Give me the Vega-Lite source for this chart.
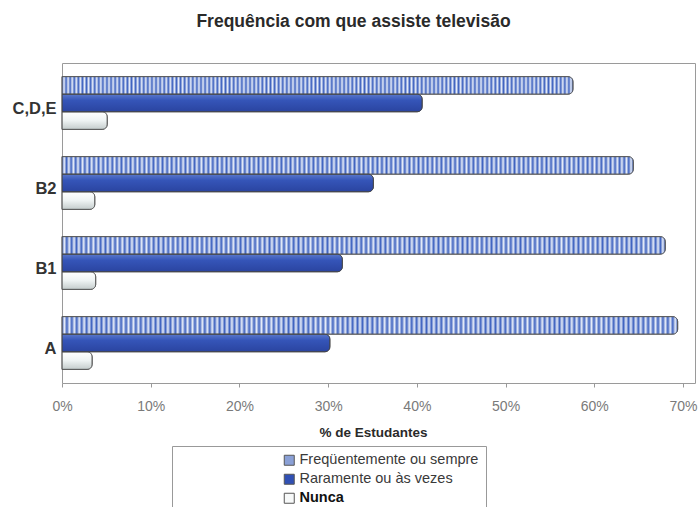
{
  "$schema": "https://vega.github.io/schema/vega-lite/v6.json",
  "width": 633,
  "height": 320,
  "autosize": "none",
  "padding": {"left": 62, "top": 63, "right": 4, "bottom": 124},
  "background": "white",
  "title": {"text": "Frequência com que assiste televisão", "fontSize": 17.5, "fontWeight": "bold", "font": "Liberation Sans", "color": "#2a2a2a", "offset": 33, "anchor": "middle", "dx": -25},
  "config": {"view": {"stroke": "#9a9a9a", "strokeWidth": 1}, "font": "Liberation Sans"},
  "data": {"values": [
    {"cat": "C,D,E", "series": "Freqüentemente ou sempre", "value": 57.6},
    {"cat": "C,D,E", "series": "Raramente ou às vezes", "value": 40.6},
    {"cat": "C,D,E", "series": "Nunca", "value": 5.1},
    {"cat": "B2", "series": "Freqüentemente ou sempre", "value": 64.4},
    {"cat": "B2", "series": "Raramente ou às vezes", "value": 35.1},
    {"cat": "B2", "series": "Nunca", "value": 3.7},
    {"cat": "B1", "series": "Freqüentemente ou sempre", "value": 68.0},
    {"cat": "B1", "series": "Raramente ou às vezes", "value": 31.6},
    {"cat": "B1", "series": "Nunca", "value": 3.8},
    {"cat": "A", "series": "Freqüentemente ou sempre", "value": 69.4},
    {"cat": "A", "series": "Raramente ou às vezes", "value": 30.2},
    {"cat": "A", "series": "Nunca", "value": 3.4}
  ]},
  "encoding": {
    "y": {"field": "cat", "type": "nominal", "sort": ["C,D,E", "B2", "B1", "A"],
      "scale": {"paddingInner": 0.34, "paddingOuter": 0.17},
      "axis": {"title": null, "domain": false, "ticks": false, "labelFontSize": 16.5, "labelFontWeight": "bold", "labelColor": "#333", "labelPadding": 6, "labelOffset": 5.5, "labelFont": "Liberation Sans"}},
    "yOffset": {"field": "series", "type": "nominal",
      "sort": ["Freqüentemente ou sempre", "Raramente ou às vezes", "Nunca"],
      "scale": {"domain": ["Freqüentemente ou sempre", "Raramente ou às vezes", "Nunca"], "paddingInner": 0, "paddingOuter": 0}},
    "x": {"field": "value", "type": "quantitative",
      "scale": {"domain": [0, 71.35], "nice": false, "zero": true},
      "axis": {"values": [0, 10, 20, 30, 40, 50, 60, 70], "labelExpr": "datum.value + '%'", "title": "% de Estudantes",
        "grid": false, "domain": false, "ticks": true, "tickSize": 4, "tickColor": "#999", "labelPadding": 12, "labelFlush": false,
        "labelFontSize": 14, "labelColor": "#7a7a7a", "labelFont": "Liberation Sans",
        "titleFontSize": 13.5, "titleFontWeight": "bold", "titleColor": "#2a2a2a", "titlePadding": 12, "titleFont": "Liberation Sans", "titleX": 311}}
  },
  "layer": [
    {
      "mark": {"type": "bar", "stroke": "#555", "strokeWidth": 0.8, "cornerRadiusEnd": 5},
      "encoding": {
        "color": {"field": "series", "type": "nominal",
          "scale": {"domain": ["Freqüentemente ou sempre", "Raramente ou às vezes", "Nunca"], "range": ["#8aa0d6", "#3050b4", "#f7f9f9"]},
          "legend": {"orient": "none", "legendX": 110, "legendY": 383, "direction": "vertical", "title": null,
            "strokeColor": "#999", "fillColor": "white", "padding": 7, "symbolType": "square", "symbolSize": 100,
            "symbolStrokeColor": "#555", "symbolStrokeWidth": 1, "labelFontSize": 14.5, "labelColor": "#3a3a3a",
            "labelFont": "Liberation Sans", "rowPadding": 3, "symbolOffset": 103, "labelOffset": 3, "labelLimit": 300,
            "encode": {"labels": {"update": {"fontWeight": {"signal": "datum.value === 'Nunca' ? 'bold' : 'normal'"}, "fill": {"signal": "datum.value === 'Nunca' ? '#111' : '#3a3a3a'"}}}}}}
      }
    },
    {
      "transform": [{"filter": "datum.series === 'Freqüentemente ou sempre'"}],
      "mark": {"type": "bar", "stroke": "#555", "strokeWidth": 0.8, "cornerRadiusEnd": 5,
        "color": {"gradient": "linear", "x1": 0, "y1": 0, "x2": 1, "y2": 0, "stops": [
{"offset":0,"color":"#3f63c0"},{"offset":0.004,"color":"#e6ecf8"},{"offset":0.008,"color":"#3f63c0"},{"offset":0.012,"color":"#e6ecf8"},{"offset":0.016,"color":"#3f63c0"},{"offset":0.02,"color":"#e6ecf8"},{"offset":0.024,"color":"#3f63c0"},{"offset":0.028,"color":"#e6ecf8"},{"offset":0.032,"color":"#3f63c0"},{"offset":0.036,"color":"#e6ecf8"},
{"offset":0.04,"color":"#3f63c0"},{"offset":0.044,"color":"#e6ecf8"},{"offset":0.048,"color":"#3f63c0"},{"offset":0.052,"color":"#e6ecf8"},{"offset":0.056,"color":"#3f63c0"},{"offset":0.06,"color":"#e6ecf8"},{"offset":0.064,"color":"#3f63c0"},{"offset":0.068,"color":"#e6ecf8"},{"offset":0.072,"color":"#3f63c0"},{"offset":0.076,"color":"#e6ecf8"},
{"offset":0.08,"color":"#3f63c0"},{"offset":0.084,"color":"#e6ecf8"},{"offset":0.088,"color":"#3f63c0"},{"offset":0.092,"color":"#e6ecf8"},{"offset":0.096,"color":"#3f63c0"},{"offset":0.1,"color":"#e6ecf8"},{"offset":0.104,"color":"#3f63c0"},{"offset":0.108,"color":"#e6ecf8"},{"offset":0.112,"color":"#3f63c0"},{"offset":0.116,"color":"#e6ecf8"},
{"offset":0.12,"color":"#3f63c0"},{"offset":0.124,"color":"#e6ecf8"},{"offset":0.128,"color":"#3f63c0"},{"offset":0.132,"color":"#e6ecf8"},{"offset":0.136,"color":"#3f63c0"},{"offset":0.14,"color":"#e6ecf8"},{"offset":0.144,"color":"#3f63c0"},{"offset":0.148,"color":"#e6ecf8"},{"offset":0.152,"color":"#3f63c0"},{"offset":0.156,"color":"#e6ecf8"},
{"offset":0.16,"color":"#3f63c0"},{"offset":0.164,"color":"#e6ecf8"},{"offset":0.168,"color":"#3f63c0"},{"offset":0.172,"color":"#e6ecf8"},{"offset":0.176,"color":"#3f63c0"},{"offset":0.18,"color":"#e6ecf8"},{"offset":0.184,"color":"#3f63c0"},{"offset":0.188,"color":"#e6ecf8"},{"offset":0.192,"color":"#3f63c0"},{"offset":0.196,"color":"#e6ecf8"},
{"offset":0.2,"color":"#3f63c0"},{"offset":0.204,"color":"#e6ecf8"},{"offset":0.208,"color":"#3f63c0"},{"offset":0.212,"color":"#e6ecf8"},{"offset":0.216,"color":"#3f63c0"},{"offset":0.22,"color":"#e6ecf8"},{"offset":0.224,"color":"#3f63c0"},{"offset":0.228,"color":"#e6ecf8"},{"offset":0.232,"color":"#3f63c0"},{"offset":0.236,"color":"#e6ecf8"},
{"offset":0.24,"color":"#3f63c0"},{"offset":0.244,"color":"#e6ecf8"},{"offset":0.248,"color":"#3f63c0"},{"offset":0.252,"color":"#e6ecf8"},{"offset":0.256,"color":"#3f63c0"},{"offset":0.26,"color":"#e6ecf8"},{"offset":0.264,"color":"#3f63c0"},{"offset":0.268,"color":"#e6ecf8"},{"offset":0.272,"color":"#3f63c0"},{"offset":0.276,"color":"#e6ecf8"},
{"offset":0.28,"color":"#3f63c0"},{"offset":0.284,"color":"#e6ecf8"},{"offset":0.288,"color":"#3f63c0"},{"offset":0.292,"color":"#e6ecf8"},{"offset":0.296,"color":"#3f63c0"},{"offset":0.3,"color":"#e6ecf8"},{"offset":0.304,"color":"#3f63c0"},{"offset":0.308,"color":"#e6ecf8"},{"offset":0.312,"color":"#3f63c0"},{"offset":0.316,"color":"#e6ecf8"},
{"offset":0.32,"color":"#3f63c0"},{"offset":0.324,"color":"#e6ecf8"},{"offset":0.328,"color":"#3f63c0"},{"offset":0.332,"color":"#e6ecf8"},{"offset":0.336,"color":"#3f63c0"},{"offset":0.34,"color":"#e6ecf8"},{"offset":0.344,"color":"#3f63c0"},{"offset":0.348,"color":"#e6ecf8"},{"offset":0.352,"color":"#3f63c0"},{"offset":0.356,"color":"#e6ecf8"},
{"offset":0.36,"color":"#3f63c0"},{"offset":0.364,"color":"#e6ecf8"},{"offset":0.368,"color":"#3f63c0"},{"offset":0.372,"color":"#e6ecf8"},{"offset":0.376,"color":"#3f63c0"},{"offset":0.38,"color":"#e6ecf8"},{"offset":0.384,"color":"#3f63c0"},{"offset":0.388,"color":"#e6ecf8"},{"offset":0.392,"color":"#3f63c0"},{"offset":0.396,"color":"#e6ecf8"},
{"offset":0.4,"color":"#3f63c0"},{"offset":0.404,"color":"#e6ecf8"},{"offset":0.408,"color":"#3f63c0"},{"offset":0.412,"color":"#e6ecf8"},{"offset":0.416,"color":"#3f63c0"},{"offset":0.42,"color":"#e6ecf8"},{"offset":0.424,"color":"#3f63c0"},{"offset":0.428,"color":"#e6ecf8"},{"offset":0.432,"color":"#3f63c0"},{"offset":0.436,"color":"#e6ecf8"},
{"offset":0.44,"color":"#3f63c0"},{"offset":0.444,"color":"#e6ecf8"},{"offset":0.448,"color":"#3f63c0"},{"offset":0.452,"color":"#e6ecf8"},{"offset":0.456,"color":"#3f63c0"},{"offset":0.46,"color":"#e6ecf8"},{"offset":0.464,"color":"#3f63c0"},{"offset":0.468,"color":"#e6ecf8"},{"offset":0.472,"color":"#3f63c0"},{"offset":0.476,"color":"#e6ecf8"},
{"offset":0.48,"color":"#3f63c0"},{"offset":0.484,"color":"#e6ecf8"},{"offset":0.488,"color":"#3f63c0"},{"offset":0.492,"color":"#e6ecf8"},{"offset":0.496,"color":"#3f63c0"},{"offset":0.5,"color":"#e6ecf8"},{"offset":0.504,"color":"#3f63c0"},{"offset":0.508,"color":"#e6ecf8"},{"offset":0.512,"color":"#3f63c0"},{"offset":0.516,"color":"#e6ecf8"},
{"offset":0.52,"color":"#3f63c0"},{"offset":0.524,"color":"#e6ecf8"},{"offset":0.528,"color":"#3f63c0"},{"offset":0.532,"color":"#e6ecf8"},{"offset":0.536,"color":"#3f63c0"},{"offset":0.54,"color":"#e6ecf8"},{"offset":0.544,"color":"#3f63c0"},{"offset":0.548,"color":"#e6ecf8"},{"offset":0.552,"color":"#3f63c0"},{"offset":0.556,"color":"#e6ecf8"},
{"offset":0.56,"color":"#3f63c0"},{"offset":0.564,"color":"#e6ecf8"},{"offset":0.568,"color":"#3f63c0"},{"offset":0.572,"color":"#e6ecf8"},{"offset":0.576,"color":"#3f63c0"},{"offset":0.58,"color":"#e6ecf8"},{"offset":0.584,"color":"#3f63c0"},{"offset":0.588,"color":"#e6ecf8"},{"offset":0.592,"color":"#3f63c0"},{"offset":0.596,"color":"#e6ecf8"},
{"offset":0.6,"color":"#3f63c0"},{"offset":0.604,"color":"#e6ecf8"},{"offset":0.608,"color":"#3f63c0"},{"offset":0.612,"color":"#e6ecf8"},{"offset":0.616,"color":"#3f63c0"},{"offset":0.62,"color":"#e6ecf8"},{"offset":0.624,"color":"#3f63c0"},{"offset":0.628,"color":"#e6ecf8"},{"offset":0.632,"color":"#3f63c0"},{"offset":0.636,"color":"#e6ecf8"},
{"offset":0.64,"color":"#3f63c0"},{"offset":0.644,"color":"#e6ecf8"},{"offset":0.648,"color":"#3f63c0"},{"offset":0.652,"color":"#e6ecf8"},{"offset":0.656,"color":"#3f63c0"},{"offset":0.66,"color":"#e6ecf8"},{"offset":0.664,"color":"#3f63c0"},{"offset":0.668,"color":"#e6ecf8"},{"offset":0.672,"color":"#3f63c0"},{"offset":0.676,"color":"#e6ecf8"},
{"offset":0.68,"color":"#3f63c0"},{"offset":0.684,"color":"#e6ecf8"},{"offset":0.688,"color":"#3f63c0"},{"offset":0.692,"color":"#e6ecf8"},{"offset":0.696,"color":"#3f63c0"},{"offset":0.7,"color":"#e6ecf8"},{"offset":0.704,"color":"#3f63c0"},{"offset":0.708,"color":"#e6ecf8"},{"offset":0.712,"color":"#3f63c0"},{"offset":0.716,"color":"#e6ecf8"},
{"offset":0.72,"color":"#3f63c0"},{"offset":0.724,"color":"#e6ecf8"},{"offset":0.728,"color":"#3f63c0"},{"offset":0.732,"color":"#e6ecf8"},{"offset":0.736,"color":"#3f63c0"},{"offset":0.74,"color":"#e6ecf8"},{"offset":0.744,"color":"#3f63c0"},{"offset":0.748,"color":"#e6ecf8"},{"offset":0.752,"color":"#3f63c0"},{"offset":0.756,"color":"#e6ecf8"},
{"offset":0.76,"color":"#3f63c0"},{"offset":0.764,"color":"#e6ecf8"},{"offset":0.768,"color":"#3f63c0"},{"offset":0.772,"color":"#e6ecf8"},{"offset":0.776,"color":"#3f63c0"},{"offset":0.78,"color":"#e6ecf8"},{"offset":0.784,"color":"#3f63c0"},{"offset":0.788,"color":"#e6ecf8"},{"offset":0.792,"color":"#3f63c0"},{"offset":0.796,"color":"#e6ecf8"},
{"offset":0.8,"color":"#3f63c0"},{"offset":0.804,"color":"#e6ecf8"},{"offset":0.808,"color":"#3f63c0"},{"offset":0.812,"color":"#e6ecf8"},{"offset":0.816,"color":"#3f63c0"},{"offset":0.82,"color":"#e6ecf8"},{"offset":0.824,"color":"#3f63c0"},{"offset":0.828,"color":"#e6ecf8"},{"offset":0.832,"color":"#3f63c0"},{"offset":0.836,"color":"#e6ecf8"},
{"offset":0.84,"color":"#3f63c0"},{"offset":0.844,"color":"#e6ecf8"},{"offset":0.848,"color":"#3f63c0"},{"offset":0.852,"color":"#e6ecf8"},{"offset":0.856,"color":"#3f63c0"},{"offset":0.86,"color":"#e6ecf8"},{"offset":0.864,"color":"#3f63c0"},{"offset":0.868,"color":"#e6ecf8"},{"offset":0.872,"color":"#3f63c0"},{"offset":0.876,"color":"#e6ecf8"},
{"offset":0.88,"color":"#3f63c0"},{"offset":0.884,"color":"#e6ecf8"},{"offset":0.888,"color":"#3f63c0"},{"offset":0.892,"color":"#e6ecf8"},{"offset":0.896,"color":"#3f63c0"},{"offset":0.9,"color":"#e6ecf8"},{"offset":0.904,"color":"#3f63c0"},{"offset":0.908,"color":"#e6ecf8"},{"offset":0.912,"color":"#3f63c0"},{"offset":0.916,"color":"#e6ecf8"},
{"offset":0.92,"color":"#3f63c0"},{"offset":0.924,"color":"#e6ecf8"},{"offset":0.928,"color":"#3f63c0"},{"offset":0.932,"color":"#e6ecf8"},{"offset":0.936,"color":"#3f63c0"},{"offset":0.94,"color":"#e6ecf8"},{"offset":0.944,"color":"#3f63c0"},{"offset":0.948,"color":"#e6ecf8"},{"offset":0.952,"color":"#3f63c0"},{"offset":0.956,"color":"#e6ecf8"},
{"offset":0.96,"color":"#3f63c0"},{"offset":0.964,"color":"#e6ecf8"},{"offset":0.968,"color":"#3f63c0"},{"offset":0.972,"color":"#e6ecf8"},{"offset":0.976,"color":"#3f63c0"},{"offset":0.98,"color":"#e6ecf8"},{"offset":0.984,"color":"#3f63c0"},{"offset":0.988,"color":"#e6ecf8"},{"offset":0.992,"color":"#3f63c0"},{"offset":0.996,"color":"#e6ecf8"},
{"offset":1,"color":"#3f63c0"}
        ]}}
    },
    {
      "transform": [{"filter": "datum.series === 'Nunca'"}],
      "mark": {"type": "bar", "stroke": "#555", "strokeWidth": 0.8, "cornerRadiusEnd": 5,
        "color": {"gradient": "linear", "x1": 0, "y1": 0, "x2": 0, "y2": 1, "stops": [
          {"offset": 0, "color": "#ffffff"}, {"offset": 0.5, "color": "#eef3f3"}, {"offset": 1, "color": "#c4cccc"}]}}
    },
    {
      "transform": [{"filter": "datum.series === 'Raramente ou às vezes'"}],
      "mark": {"type": "bar", "stroke": "#444", "strokeWidth": 0.8, "cornerRadiusEnd": 5,
        "color": {"gradient": "linear", "x1": 0, "y1": 0, "x2": 0, "y2": 1, "stops": [
          {"offset": 0, "color": "#5a78cc"}, {"offset": 0.35, "color": "#3555b8"}, {"offset": 1, "color": "#2a44a0"}]}}
    }
  ]
}
